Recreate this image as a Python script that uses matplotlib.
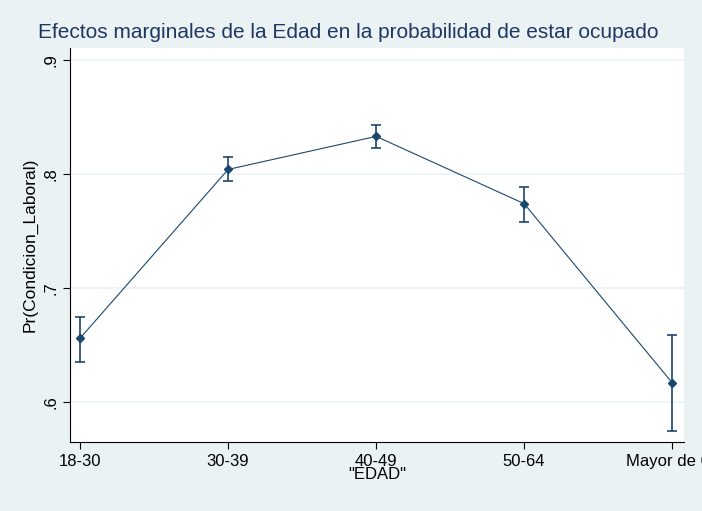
import matplotlib.pyplot as plt
import numpy as np

categories = ['18-30', '30-39', '40-49', '50-64', 'Mayor de 65']
margins = [0.656, 0.804, 0.833, 0.774, 0.617]
ci_low = [0.635, 0.794, 0.823, 0.758, 0.575]
ci_high = [0.675, 0.815, 0.843, 0.789, 0.659]
yticks = [0.6, 0.7, 0.8, 0.9]
ytick_labels = ['.6', '.7', '.8', '.9']

bg = '#eaf2f3'
navy = '#1a476f'

plt.rcParams['font.family'] = ['Liberation Sans', 'DejaVu Sans']

fig = plt.figure(figsize=(7.02, 5.11), dpi=100, facecolor=bg)
ax = fig.add_axes([70 / 702, 1 - 442 / 511, 614 / 702, 394 / 511])
ax.set_facecolor('white')

x = np.arange(len(categories))
m = np.array(margins)
err = [m - np.array(ci_low), np.array(ci_high) - m]

ax.errorbar(x, m, yerr=err, fmt='none', ecolor=navy, elinewidth=1.2,
            capsize=3.5, capthick=1.2, zorder=3)
ax.plot(x, m, color=navy, lw=0.8, marker='D', markersize=4.5,
        markerfacecolor=navy, markeredgecolor=navy, zorder=4)

ax.set_xlim(-0.068, 4.08)
ax.set_ylim(0.565, 0.9105)
ax.set_yticks(yticks)
ax.set_yticklabels(ytick_labels, rotation=90, va='center')
ax.set_xticks(x)
ax.set_xticklabels(categories)
ax.grid(axis='y', color=bg, lw=1.2)
ax.set_axisbelow(True)

for s in ['top', 'right']:
    ax.spines[s].set_visible(False)
ax.spines['left'].set_color('black')
ax.spines['bottom'].set_color('black')
ax.tick_params(length=5, labelsize=12, colors='black')

ax.set_ylabel('Pr(Condicion_Laboral)', fontsize=12.5, labelpad=4)
ax.set_xlabel('"EDAD"', fontsize=12, labelpad=-1)

fig.text(38 / 702, 1 - 33 / 511, 'Efectos marginales de la Edad en la probabilidad de estar ocupado',
         fontsize=15, color='#1e3764', va='center', ha='left')

fig.savefig('out.png', dpi=100, facecolor=bg)
